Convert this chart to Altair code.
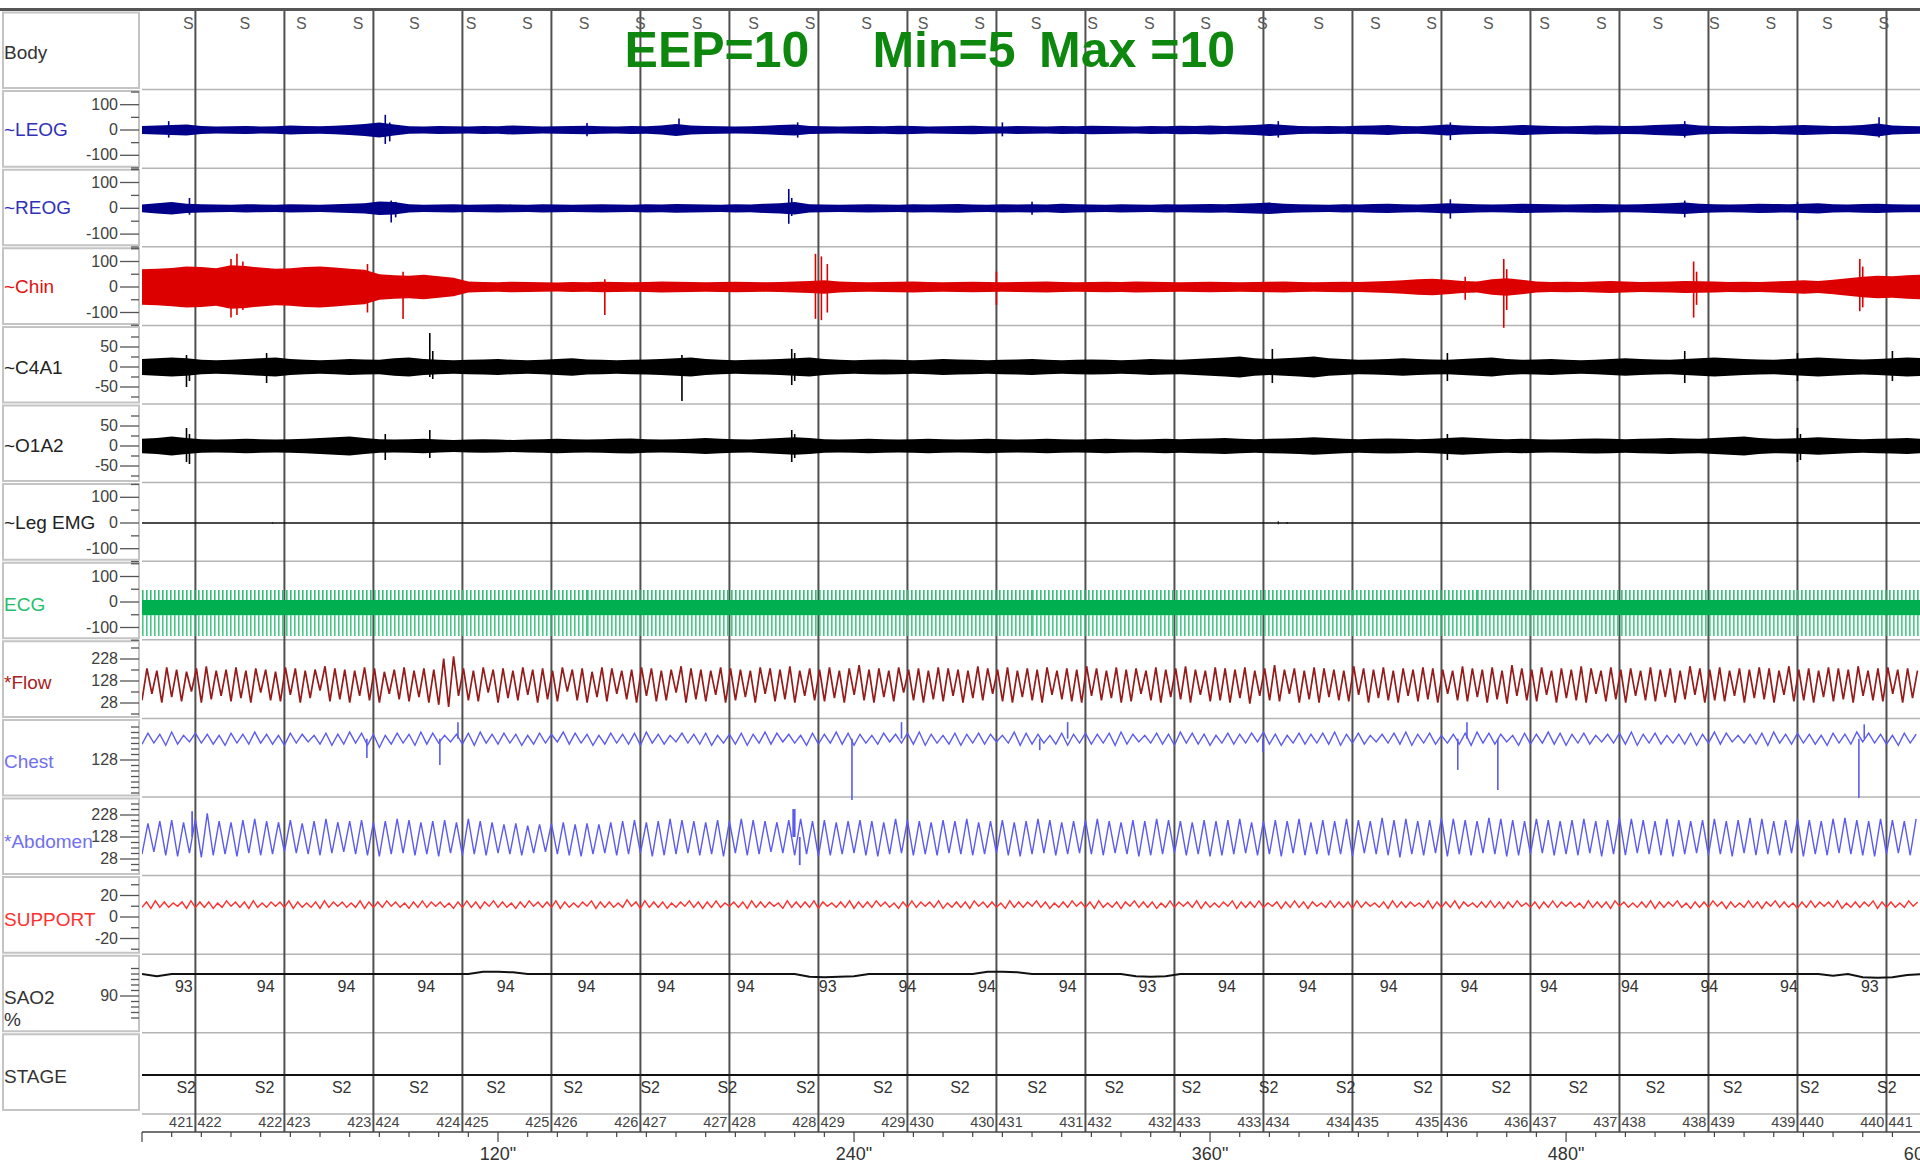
import altair as alt
import pandas as pd

# ====================== data ======================
EPOCHS = [421, 422, 423, 424, 425, 426, 427, 428, 429, 430, 431,
          432, 433, 434, 435, 436, 437, 438, 439, 440, 441]
EPOCH_STAGE = ["S2", "S2", "S2", "S2", "S2", "S2", "S2", "S2", "S2", "S2", "S2",
               "S2", "S2", "S2", "S2", "S2", "S2", "S2", "S2", "S2", "S2"]
EPOCH_421_START_S = -12.0
EPOCH_LEN_S = 30

BODY_POSITION_T = [15.6, 34.7, 53.7, 72.8, 91.8, 110.9, 129.9, 149.0, 168.0, 187.1,
                   206.1, 225.2, 244.2, 263.3, 282.3, 301.4, 320.4, 339.5, 358.5, 377.6,
                   396.6, 415.7, 434.7, 453.8, 472.8, 491.9, 510.9, 530.0, 549.0, 568.1, 587.1]
BODY_POSITION = "S"

SAO2_READ_T = [-13.2, 14.1, 41.7, 68.9, 95.8, 122.6, 149.8, 176.7, 203.5, 231.1, 258.0, 284.8,
               312.0, 338.9, 365.7, 392.9, 420.2, 447.4, 474.2, 501.5, 528.3, 555.1, 582.4]
SAO2_READ_V = [94, 93, 94, 94, 94, 94, 94, 94, 94, 93, 94, 94,
               94, 93, 94, 94, 94, 94, 94, 94, 94, 94, 93]
STAGE_LABEL_T = [-11.1, 14.9, 41.3, 67.3, 93.3, 119.3, 145.3, 171.3, 197.3, 223.7, 249.7, 275.7,
                 301.7, 327.7, 353.7, 379.7, 405.7, 431.7, 458.1, 484.1, 510.1, 536.1, 562.1, 588.1]
TIME_LABEL_S = [120, 240, 360, 480, 600]
TIME_TICK_S = [0, 10, 20, 30, 40, 50, 60, 70, 80, 90, 100, 110, 120, 130, 140, 150, 160, 170, 180, 190,
               200, 210, 220, 230, 240, 250, 260, 270, 280, 290, 300, 310, 320, 330, 340, 350, 360, 370,
               380, 390, 400, 410, 420, 430, 440, 450, 460, 470, 480, 490, 500, 510, 520, 530, 540, 550,
               560, 570, 580, 590]

TITLE_TEXTS = ["EEP=10", "Min=5", "Max =10"]

# envelopes (half amplitude, channel units) every 5 s
ENV_STEP_S = 5
LEOG_AMP = [16, 18, 20, 22, 16, 14, 15, 16, 14, 15, 18, 16, 15, 17, 20, 24, 30, 22, 15, 14,
            16, 15, 14, 16, 15, 18, 16, 14, 15, 16, 17, 15, 14, 16, 15, 18, 24, 18, 16, 15,
            14, 15, 17, 20, 22, 16, 15, 14, 15, 16, 15, 17, 16, 14, 15, 16, 17, 15, 14, 16,
            15, 14, 16, 15, 17, 16, 15, 14, 16, 15, 17, 16, 18, 16, 18, 20, 24, 20, 16, 15,
            16, 15, 17, 18, 20, 16, 15, 18, 22, 18, 16, 15, 17, 20, 18, 16, 15, 16, 18, 17,
            16, 17, 20, 22, 24, 18, 16, 15, 16, 17, 16, 18, 20, 18, 16, 17, 20, 26, 18, 16, 15]
REOG_AMP = [15, 20, 24, 18, 16, 15, 14, 16, 15, 14, 16, 15, 14, 16, 18, 20, 26, 24, 16, 14,
            15, 16, 14, 15, 16, 15, 14, 16, 15, 14, 15, 16, 15, 14, 16, 15, 17, 16, 15, 14,
            16, 15, 18, 20, 24, 16, 15, 14, 15, 16, 15, 14, 16, 15, 16, 17, 15, 14, 16, 15,
            16, 15, 18, 16, 15, 14, 16, 15, 14, 16, 15, 16, 17, 16, 18, 20, 22, 18, 16, 15,
            14, 16, 15, 17, 18, 16, 15, 17, 20, 18, 16, 15, 16, 18, 17, 16, 15, 16, 17, 16,
            15, 16, 18, 20, 22, 18, 16, 15, 16, 18, 17, 16, 18, 20, 16, 15, 17, 18, 16, 15, 15]
CHIN_AMP = [70, 72, 75, 80, 78, 74, 85, 82, 76, 72, 74, 78, 80, 76, 72, 68, 50, 46, 44, 48,
            42, 36, 22, 20, 19, 21, 20, 19, 18, 20, 19, 21, 20, 19, 20, 22, 21, 20, 19, 20,
            21, 20, 19, 20, 22, 24, 26, 22, 20, 19, 20, 21, 22, 20, 19, 20, 21, 20, 19, 20,
            21, 22, 20, 19, 20, 21, 20, 22, 21, 20, 19, 20, 21, 20, 19, 20, 21, 22, 20, 19,
            20, 21, 20, 22, 24, 26, 30, 32, 28, 24, 22, 30, 34, 28, 22, 20, 21, 20, 22, 24,
            22, 20, 21, 22, 24, 23, 22, 20, 21, 20, 22, 24, 26, 24, 28, 34, 40, 44, 42, 46, 48]
C4A1_AMP = [20, 22, 24, 22, 18, 17, 18, 20, 22, 24, 20, 18, 17, 18, 20, 19, 18, 22, 24, 20,
            18, 17, 18, 19, 20, 18, 17, 18, 20, 22, 19, 18, 17, 18, 19, 20, 22, 24, 20, 18,
            17, 18, 19, 20, 22, 24, 20, 18, 17, 18, 19, 18, 17, 18, 20, 19, 18, 17, 18, 19,
            20, 18, 17, 18, 19, 18, 17, 18, 20, 19, 18, 20, 22, 24, 26, 22, 20, 22, 24, 26,
            22, 20, 18, 19, 20, 22, 20, 19, 18, 20, 22, 24, 20, 18, 19, 20, 18, 17, 18, 20,
            22, 20, 19, 18, 20, 22, 24, 22, 20, 19, 18, 20, 22, 24, 22, 20, 19, 20, 22, 24, 22]
O1A2_AMP = [18, 20, 24, 20, 17, 16, 17, 18, 17, 16, 17, 18, 20, 22, 24, 20, 17, 16, 17, 18,
            16, 15, 16, 17, 16, 15, 16, 17, 18, 17, 16, 17, 18, 19, 17, 16, 17, 18, 20, 18,
            17, 16, 18, 20, 22, 20, 17, 16, 17, 18, 17, 16, 17, 18, 17, 16, 17, 18, 17, 16,
            17, 18, 17, 16, 17, 18, 17, 16, 17, 18, 17, 18, 19, 20, 18, 17, 18, 19, 20, 22,
            20, 18, 17, 18, 19, 18, 17, 18, 20, 22, 20, 18, 17, 18, 17, 16, 17, 18, 19, 18,
            17, 18, 19, 20, 19, 18, 20, 22, 24, 20, 18, 19, 20, 22, 20, 18, 17, 18, 19, 20, 18]

# isolated deflections: time (s), top, bottom (channel units)
LEOG_SPK_T = [9, 82, 83.5, 150, 181, 221, 290, 383, 441, 520, 585.5]
LEOG_SPK_HI = [35, 60, 30, 28, 45, 30, 30, 35, 30, 35, 50]
LEOG_SPK_LO = [-30, -55, -45, -25, -20, -30, -25, -30, -40, -30, -30]
REOG_SPK_T = [16, 84, 85.5, 218, 219, 300, 441, 520, 558]
REOG_SPK_HI = [40, 30, 25, 75, 40, 25, 35, 30, 25]
REOG_SPK_LO = [-25, -55, -35, -60, -30, -25, -40, -35, -45]
CHIN_SPK_T = [30, 32, 34, 76, 88, 156, 227, 229, 231, 288, 446, 459, 460, 523, 524, 579, 580]
CHIN_SPK_HI = [110, 130, 100, 90, 60, 30, 130, 120, 90, 60, 40, 110, 70, 100, 60, 110, 80]
CHIN_SPK_LO = [-120, -110, -90, -100, -125, -110, -125, -130, -100, -70, -50, -160, -90, -120, -70, -95, -80]
C4A1_SPK_T = [15, 16, 42, 97, 98, 182, 219, 220, 381, 440, 520, 558, 590]
C4A1_SPK_HI = [30, 20, 35, 85, 40, 30, 45, 35, 45, 35, 40, 35, 40]
C4A1_SPK_LO = [-50, -35, -40, -25, -30, -85, -45, -35, -40, -35, -40, -35, -35]
O1A2_SPK_T = [15, 16, 82, 97, 219, 220, 440, 558, 559]
O1A2_SPK_HI = [45, 30, 30, 40, 40, 30, 30, 45, 30]
O1A2_SPK_LO = [-40, -45, -35, -30, -40, -30, -35, -40, -35]
LEG_T = [0, 600]
LEG_V = [0, 0]
LEG_SPK_T = [44, 383, 386]
LEG_SPK_HI = [3, 7, 4]
LEG_SPK_LO = [-2, -5, -3]

ECG_T = [0, 150, 300, 450, 600]
ECG_CORE_HI = [8, 8, 8, 8, 8]
ECG_CORE_LO = [-52, -52, -52, -52, -52]
ECG_PEAK_HI = [47, 47, 47, 47, 47]
ECG_PEAK_LO = [-133, -133, -133, -133, -133]

FLOW_HALF_PERIOD_S = 1.667
FLOW_TROUGH = [40, 70, 30, 55, 35, 80, 30, 45, 60, 35, 50, 30, 75, 40, 35, 65, 30, 50, 85, 35,
               45, 30, 60, 40, 30, 70, 45, 35, 55, 30, 20, 10, 60, 40, 35, 75, 30, 50, 40, 65,
               30, 45, 35, 80, 40, 30, 55, 35, 70, 45, 30, 60, 35, 40, 75, 30, 45, 35, 65, 30,
               40, 55, 30, 70, 35, 45, 30, 60, 40, 35, 50, 30, 65, 40, 30, 55, 35, 75, 40, 30,
               45, 35, 60, 30, 50, 40, 70, 35, 30, 55, 40, 30, 65, 45, 35, 30, 60, 40, 50, 30,
               35, 70, 40, 30, 55, 45, 30, 65, 35, 40, 30, 50, 25, 60, 40, 35, 70, 30, 45, 30,
               55, 40, 35, 65, 30, 50, 40, 30, 60, 35, 45, 30, 70, 40, 35, 55, 30, 45, 25, 60,
               40, 35, 65, 30, 50, 40, 30, 70, 35, 45, 30, 60, 40, 35, 55, 30, 45, 65, 30, 40,
               35, 60, 30, 50, 45, 30, 65, 35, 40, 30, 55, 35, 45, 30, 60, 40, 35, 70, 30, 50]
FLOW_PEAK = [185, 175, 190, 180, 170, 185, 195, 175, 180, 190, 175, 185, 180, 170, 190, 185, 175, 180, 195, 185,
             180, 175, 190, 185, 170, 180, 190, 175, 185, 180, 230, 240, 185, 175, 190, 180, 185, 175, 190, 180,
             185, 175, 190, 180, 185, 170, 190, 185, 175, 180, 190, 185, 175, 180, 195, 185, 180, 175, 190, 185,
             180, 175, 190, 185, 180, 195, 175, 185, 180, 190, 175, 185, 200, 180, 185, 175, 190, 180, 185, 175,
             190, 185, 180, 175, 195, 185, 180, 190, 175, 185, 180, 190, 175, 185, 180, 195, 185, 175, 190, 180,
             185, 175, 190, 180, 185, 195, 180, 175, 190, 185, 180, 190, 175, 185, 200, 180, 185, 175, 190, 185,
             180, 175, 195, 185, 180, 190, 175, 185, 180, 190, 185, 180, 175, 195, 185, 180, 190, 175, 200, 185,
             180, 190, 175, 185, 180, 195, 185, 175, 190, 180, 185, 175, 190, 180, 185, 175, 195, 185, 180, 190,
             175, 185, 180, 190, 185, 175, 195, 180, 185, 175, 190, 185, 180, 195, 175, 185, 190, 180, 185, 175]

RESP_HALF_PERIOD_S = 2.0
CHEST_TROUGH = [200, 205, 195, 200, 210, 205, 200, 195, 205, 200, 205, 200, 195, 205, 210, 200, 195, 200, 205, 195,
                185, 200, 205, 195, 200, 205, 210, 200, 195, 205, 200, 205, 195, 200, 205, 210, 200, 205, 195, 200,
                205, 200, 195, 205, 200, 210, 205, 200, 195, 205, 200, 195, 205, 200, 210, 205, 195, 200, 205, 200,
                195, 205, 200, 210, 205, 200, 195, 205, 200, 195, 205, 200, 210, 205, 195, 200, 205, 200, 195, 205,
                200, 205, 195, 200, 210, 205, 200, 195, 205, 200, 195, 205, 200, 205, 210, 200, 195, 205, 200, 205,
                200, 195, 205, 200, 210, 205, 200, 195, 205, 200, 205, 200, 195, 205, 200, 210, 195, 200, 205, 200,
                195, 205, 200, 210, 205, 200, 195, 205, 200, 205, 200, 195, 205, 200, 210, 205, 200, 195, 205, 200,
                205, 200, 195, 205, 200, 210, 205, 200, 195, 205]
CHEST_PEAK = [250, 245, 255, 240, 250, 245, 240, 250, 245, 255, 245, 240, 250, 245, 240, 250, 245, 255, 250, 245,
              240, 250, 245, 255, 250, 240, 245, 250, 255, 245, 250, 245, 240, 250, 245, 255, 250, 245, 240, 250,
              245, 250, 255, 245, 240, 250, 245, 250, 240, 245, 250, 245, 255, 250, 245, 240, 250, 245, 255, 250,
              245, 240, 250, 245, 250, 255, 245, 240, 250, 245, 250, 245, 240, 255, 250, 245, 240, 250, 245, 250,
              245, 250, 255, 245, 240, 250, 245, 255, 250, 245, 240, 250, 245, 250, 255, 245, 240, 250, 245, 250,
              255, 245, 250, 240, 245, 250, 255, 245, 250, 240, 245, 250, 255, 250, 245, 240, 250, 245, 255, 250,
              245, 250, 240, 245, 250, 255, 245, 250, 240, 245, 250, 245, 255, 250, 240, 245, 250, 255, 245, 250,
              245, 240, 250, 245, 255, 250, 245, 240, 250, 245]
CHEST_SPK_T = [75.8, 100.4, 106.5, 239.3, 256, 302.6, 312, 377.8, 443.5, 446.6, 457, 578.7, 580.5]
CHEST_SPK_V = [137, 105, 300, -54, 300, 173, 300, 164, 83, 300, -8, -45, 290]
CHEST_SPK_FROM = 225

ABD_TROUGH = [50, 60, 45, 40, 55, 35, 45, 50, 40, 55, 45, 50, 60, 55, 50, 45, 55, 60, 50, 45,
              40, 50, 55, 45, 50, 40, 55, 45, 50, 45, 55, 50, 45, 55, 60, 50, 45, 40, 50, 55,
              45, 50, 55, 40, 45, 50, 55, 45, 50, 40, 55, 45, 50, 60, 55, 45, 50, 40, 45, 50,
              55, 45, 40, 50, 55, 45, 50, 45, 55, 50, 45, 50, 55, 45, 40, 50, 55, 45, 50, 55,
              50, 45, 55, 50, 40, 45, 50, 55, 45, 50, 40, 45, 50, 55, 45, 50, 40, 55, 45, 50,
              45, 50, 40, 55, 50, 45, 35, 50, 45, 55, 40, 50, 45, 55, 50, 40, 45, 50, 55, 45,
              50, 45, 55, 40, 50, 45, 55, 50, 45, 40, 50, 55, 45, 50, 40, 55, 45, 50, 45, 55,
              40, 50, 45, 55, 50, 45, 40, 50, 55, 45]
ABD_PEAK = [190, 200, 205, 195, 210, 235, 200, 195, 205, 210, 200, 195, 205, 190, 200, 210, 195, 200, 205, 195,
            200, 210, 205, 195, 200, 205, 195, 210, 200, 195, 185, 190, 180, 185, 190, 195, 185, 190, 185, 195,
            200, 205, 195, 200, 210, 205, 200, 195, 205, 200, 210, 205, 200, 195, 205, 210, 200, 205, 195, 200,
            205, 200, 195, 210, 205, 200, 195, 205, 200, 210, 195, 200, 205, 195, 200, 210, 205, 195, 200, 205,
            210, 200, 195, 205, 200, 210, 205, 200, 195, 205, 200, 205, 210, 195, 200, 205, 200, 210, 195, 205,
            200, 210, 205, 200, 215, 205, 210, 200, 205, 215, 210, 205, 200, 215, 210, 205, 200, 210, 205, 200,
            205, 210, 200, 205, 215, 210, 205, 200, 210, 205, 200, 205, 210, 200, 205, 215, 210, 200, 205, 210,
            205, 200, 210, 215, 205, 200, 210, 205, 200, 210]
ABD_SPK_T = [16.9, 219.5, 220.0, 221.7]
ABD_SPK_V = [245, 255, 255, 0]
ABD_SPK_FROM = 128

SUP_HALF_PERIOD_S = 1.5
SUP_PEAK = [14, 15, 14, 13, 14, 15, 14, 14, 13, 15, 14, 14, 15, 13, 14, 14, 15, 14, 13, 14,
            15, 14, 14, 13, 15, 14, 14, 15, 14, 13, 14, 15, 14, 14, 13, 14, 15, 14, 14, 15,
            14, 13, 14, 15, 14, 14, 15, 14, 13, 14, 15, 14, 14, 13, 16, 14, 15, 14, 14, 13,
            14, 15, 14, 14, 15, 13, 14, 14, 15, 14, 14, 13, 15, 14, 14, 15, 14, 13, 14, 15,
            14, 14, 15, 14, 13, 14, 15, 14, 14, 15, 13, 14, 14, 15, 14, 14, 13, 15, 14, 14,
            15, 14, 13, 14, 15, 14, 14, 15, 13, 14, 14, 15, 14, 14, 13, 15, 14, 14, 15, 14,
            13, 14, 15, 14, 14, 15, 13, 14, 14, 15, 14, 14, 13, 15, 14, 14, 15, 14, 13, 14,
            15, 14, 14, 13, 15, 14, 14, 15, 14, 13, 14, 15, 14, 14, 15, 13, 14, 14, 15, 14,
            14, 13, 15, 14, 14, 15, 14, 13, 14, 15, 14, 14, 15, 13, 14, 14, 15, 14, 14, 13,
            15, 14, 14, 15, 14, 13, 14, 15, 14, 14, 15, 13, 14, 14, 15, 14, 14, 13, 15, 14]
SUP_TROUGH = [9, 8, 9, 9, 10, 8, 9, 9, 8, 9, 10, 9, 8, 9, 9, 10, 9, 8, 9, 9,
              8, 9, 10, 9, 9, 8, 9, 9, 10, 9, 8, 9, 9, 10, 9, 8, 9, 9, 8, 10,
              9, 9, 8, 9, 10, 9, 9, 8, 9, 9, 10, 8, 9, 9, 9, 10, 8, 9, 9, 8,
              9, 10, 9, 8, 9, 9, 10, 9, 8, 9, 9, 10, 8, 9, 9, 9, 8, 10, 9, 9,
              8, 9, 9, 10, 9, 8, 9, 9, 10, 9, 8, 9, 9, 8, 10, 9, 9, 8, 9, 9,
              10, 9, 8, 9, 9, 10, 9, 8, 9, 9, 8, 10, 9, 9, 8, 9, 9, 10, 9, 8,
              9, 9, 10, 8, 9, 9, 9, 10, 8, 9, 9, 8, 10, 9, 9, 9, 8, 9, 10, 9,
              8, 9, 9, 10, 9, 8, 9, 9, 8, 10, 9, 9, 9, 8, 9, 10, 9, 8, 9, 9,
              10, 9, 8, 9, 9, 8, 10, 9, 9, 9, 8, 9, 10, 9, 8, 9, 9, 10, 8, 9,
              9, 9, 8, 10, 9, 9, 8, 9, 9, 10, 9, 8, 9, 9, 10, 8, 9, 9, 9, 10]

SAO2_PCT = [94, 93.6, 94, 94, 94, 94, 94, 94, 94, 94, 94, 94, 94, 94, 94, 94, 94, 94, 94, 94,
            94, 94, 94, 94.4, 94.4, 94.3, 94, 94, 94, 94, 94, 94, 94, 94, 94, 94, 94, 94, 94, 94,
            94, 94, 94, 94, 94, 93.5, 93.4, 93.5, 93.6, 94, 94, 94, 94, 94, 94, 94, 94, 94.4, 94.4, 94.3,
            94, 94, 94, 94, 94, 94, 94, 93.6, 93.5, 93.6, 94, 94, 94, 94, 94, 94, 94, 94, 94, 94,
            94, 94, 94, 94, 94, 94, 94, 94, 94, 94, 94, 94, 94, 94, 94, 94, 94, 94, 94, 94,
            94, 94, 94, 94, 94, 94, 94, 94, 94, 94, 94, 94, 94, 94, 93.7, 94, 93.4, 93.3, 93.4, 93.8, 94]

# ====================== layout / styles ======================
FONT = "Liberation Sans"
PLOT_W, PLOT_H = 1778, 1121
T_MAX = 599.3
ROW_PITCH = 78.6
PANEL_X0, PANEL_X1 = -139, -3

# channel -> (pixel row of base value, pixels per unit, base value)
CH = {
    "LEOG": (119.0, 0.253, 0), "REOG": (197.3, 0.258, 0), "Chin": (276.0, 0.255, 0),
    "C4A1": (356.0, 0.40, 0), "O1A2": (435.0, 0.40, 0), "Leg": (512.0, 0.257, 0),
    "ECG": (591.0, 0.255, 0), "Flow": (670.0, 0.22, 128), "Chest": (749.0, 0.22, 128),
    "Abdomen": (826.0, 0.22, 128), "SUPPORT": (906.0, 1.075, 0), "SAO2": (985.0, 5.5, 90),
    "STAGE": (1064.0, 1.0, 0),
}


def ypix(ch, v):
    z, k, b = CH[ch]
    return z - (v - b) * k


XS = alt.Scale(domain=[0, T_MAX], nice=False, zero=False)
YS = alt.Scale(domain=[0, PLOT_H], reverse=True, nice=False, zero=False)


def X(f="t"):
    return alt.X(f + ":Q", scale=XS, axis=None)


def Y(f="y"):
    return alt.Y(f + ":Q", scale=YS, axis=None)


layers = []

# label panel boxes
boxes = pd.DataFrame({"y": [ROW_PITCH * i + 1.5 for i in range(14)],
                      "y2": [ROW_PITCH * (i + 1) - 1.5 for i in range(14)]})
layers.append(alt.Chart(boxes).mark_rect(fill="white", stroke="#c4c4c4", strokeWidth=2).encode(
    x=alt.value(PANEL_X0), x2=alt.value(PANEL_X1), y=Y("y"), y2="y2:Q"))

# top border
layers.append(alt.Chart(pd.DataFrame({"y": [-1.5]})).mark_rule(color="#555555", strokeWidth=3).encode(
    x=alt.value(-142), x2=alt.value(PLOT_W), y=Y("y")))

# row separators inside plot + epoch strip line
sep = pd.DataFrame({"y": [ROW_PITCH * i for i in range(1, 14)] + [1103.0]})
sep["t0"] = 0.0
sep["t1"] = T_MAX
layers.append(alt.Chart(sep).mark_rule(color="#b4b4b4", strokeWidth=1.5).encode(
    x=X("t0"), x2="t1:Q", y=Y("y")))

# epoch boundaries
ep = pd.DataFrame({"t": [EPOCH_421_START_S + EPOCH_LEN_S * (n - EPOCHS[0]) for n in EPOCHS[1:]]})
ep["y0"] = 0.0
ep["y1"] = float(PLOT_H)
layers.append(alt.Chart(ep).mark_rule(color="#505050", strokeWidth=2).encode(
    x=X("t"), y=Y("y0"), y2="y1:Q"))

# time axis line and ticks
layers.append(alt.Chart(pd.DataFrame({"t0": [0.0], "t1": [T_MAX], "y": [float(PLOT_H)]})).mark_rule(
    color="#444444", strokeWidth=1.5).encode(x=X("t0"), x2="t1:Q", y=Y("y")))
tk = pd.DataFrame({"t": TIME_TICK_S})
tk["y0"] = float(PLOT_H)
tk["y1"] = [PLOT_H + (10 if s % 120 == 0 else 5) for s in TIME_TICK_S]
layers.append(alt.Chart(tk).mark_rule(color="#444444", strokeWidth=1.2).encode(
    x=X("t"), y=Y("y0"), y2="y1:Q"))


def band(ch, amps, color):
    df = pd.DataFrame({"t": [i * ENV_STEP_S for i in range(len(amps))],
                       "y": [ypix(ch, a) for a in amps],
                       "y2": [ypix(ch, -a) for a in amps]})
    return alt.Chart(df).mark_area(color=color, opacity=1).encode(x=X("t"), y=Y("y"), y2="y2:Q")


def spikes(ch, ts, hi, lo, color, w=1.6):
    df = pd.DataFrame({"t": ts, "y": [ypix(ch, v) for v in hi], "y2": [ypix(ch, v) for v in lo]})
    return alt.Chart(df).mark_rule(color=color, strokeWidth=w).encode(x=X("t"), y=Y("y"), y2="y2:Q")


def line(ch, ts, vs, color, w=1.5):
    df = pd.DataFrame({"t": ts, "y": [ypix(ch, v) for v in vs]})
    return alt.Chart(df).mark_line(color=color, strokeWidth=w, clip=True).encode(x=X("t"), y=Y("y"))


def interleave(a, b):
    out = []
    for p, q in zip(a, b):
        out += [p, q]
    return out


EOG_C, CHIN_C, EEG_C = "#000088", "#dd0000", "#000000"
layers += [band("LEOG", LEOG_AMP, EOG_C), spikes("LEOG", LEOG_SPK_T, LEOG_SPK_HI, LEOG_SPK_LO, EOG_C),
           band("REOG", REOG_AMP, EOG_C), spikes("REOG", REOG_SPK_T, REOG_SPK_HI, REOG_SPK_LO, EOG_C),
           band("Chin", CHIN_AMP, CHIN_C), spikes("Chin", CHIN_SPK_T, CHIN_SPK_HI, CHIN_SPK_LO, CHIN_C),
           band("C4A1", C4A1_AMP, EEG_C), spikes("C4A1", C4A1_SPK_T, C4A1_SPK_HI, C4A1_SPK_LO, EEG_C),
           band("O1A2", O1A2_AMP, EEG_C), spikes("O1A2", O1A2_SPK_T, O1A2_SPK_HI, O1A2_SPK_LO, EEG_C),
           line("Leg", LEG_T, LEG_V, "#111111", 1.5),
           spikes("Leg", LEG_SPK_T, LEG_SPK_HI, LEG_SPK_LO, "#111111", 1.2)]

# ECG: comb of beats above and below a solid core
ecg_up = pd.DataFrame({"t0": ECG_T[:-1], "t1": ECG_T[1:],
                       "y": [ypix("ECG", (h + c) / 2) for h, c in zip(ECG_PEAK_HI[:-1], ECG_CORE_HI[:-1])],
                       "w": [(h - c) * CH["ECG"][1] for h, c in zip(ECG_PEAK_HI[:-1], ECG_CORE_HI[:-1])]})
ecg_dn = pd.DataFrame({"t0": ECG_T[:-1], "t1": ECG_T[1:],
                       "y": [ypix("ECG", (l + c) / 2) for l, c in zip(ECG_PEAK_LO[:-1], ECG_CORE_LO[:-1])],
                       "w": [(c - l) * CH["ECG"][1] for l, c in zip(ECG_PEAK_LO[:-1], ECG_CORE_LO[:-1])]})
layers.append(alt.Chart(ecg_up).mark_rule(color="#2fbf74", strokeDash=[1.6, 2.4], strokeCap="butt").encode(
    x=X("t0"), x2="t1:Q", y=Y("y"), strokeWidth=alt.StrokeWidth("w:Q", scale=None)))
layers.append(alt.Chart(ecg_dn).mark_rule(color="#45c985", strokeDash=[1.6, 2.4], strokeCap="butt").encode(
    x=X("t0"), x2="t1:Q", y=Y("y"), strokeWidth=alt.StrokeWidth("w:Q", scale=None)))
ecg_core = pd.DataFrame({"t": ECG_T, "y": [ypix("ECG", v) for v in ECG_CORE_HI],
                         "y2": [ypix("ECG", v) for v in ECG_CORE_LO]})
layers.append(alt.Chart(ecg_core).mark_area(color="#00b050").encode(x=X("t"), y=Y("y"), y2="y2:Q"))

# respiration
flow_v = interleave(FLOW_TROUGH, FLOW_PEAK)
layers.append(line("Flow", [j * FLOW_HALF_PERIOD_S for j in range(len(flow_v))], flow_v, "#961c1c", 1.7))
chest_v = interleave(CHEST_TROUGH, CHEST_PEAK)
layers.append(line("Chest", [j * RESP_HALF_PERIOD_S for j in range(len(chest_v))], chest_v, "#5b5bf0", 1.4))
layers.append(spikes("Chest", CHEST_SPK_T, [CHEST_SPK_FROM] * len(CHEST_SPK_T), CHEST_SPK_V, "#5b5bf0", 1.6))
abd_v = interleave(ABD_TROUGH, ABD_PEAK)
layers.append(line("Abdomen", [j * RESP_HALF_PERIOD_S for j in range(len(abd_v))], abd_v, "#5b5bf0", 1.4))
layers.append(spikes("Abdomen", ABD_SPK_T, [ABD_SPK_FROM] * len(ABD_SPK_T), ABD_SPK_V, "#5b5bf0", 1.8))
sup_v = interleave(SUP_TROUGH, SUP_PEAK)
layers.append(line("SUPPORT", [j * SUP_HALF_PERIOD_S for j in range(len(sup_v))], sup_v, "#ff3030", 1.4))

# SaO2 and stage
layers.append(line("SAO2", [i * ENV_STEP_S for i in range(len(SAO2_PCT))], SAO2_PCT, "#111111", 2))
stage_df = pd.DataFrame({"t0": [EPOCH_421_START_S + EPOCH_LEN_S * i for i in range(len(EPOCHS))],
                         "t1": [EPOCH_421_START_S + EPOCH_LEN_S * (i + 1) for i in range(len(EPOCHS))],
                         "y": [ypix("STAGE", 0) for _ in EPOCH_STAGE]})
layers.append(alt.Chart(stage_df).mark_rule(color="#111111", strokeWidth=2, clip=True).encode(
    x=X("t0"), x2="t1:Q", y=Y("y")))


# ---------------- texts ----------------
def texts(df, size, color, align="center", baseline="middle", clip=False, weight="normal", font=FONT):
    return alt.Chart(df).mark_text(fontSize=size, color=color, align=align, baseline=baseline,
                                   clip=clip, fontWeight=weight, font=font).encode(
        x=X("t"), y=Y("y"), text="txt:N")


layers.append(texts(pd.DataFrame({"t": BODY_POSITION_T, "y": 13.0,
                                  "txt": [BODY_POSITION] * len(BODY_POSITION_T)}), 16, "#5a5a5a"))
layers.append(texts(pd.DataFrame({"t": SAO2_READ_T, "y": 976.0, "txt": [str(v) for v in SAO2_READ_V]}),
                    16, "#333333", clip=True))


def stage_at(t):
    i = int((t - EPOCH_421_START_S) // EPOCH_LEN_S)
    return EPOCH_STAGE[max(0, min(i, len(EPOCH_STAGE) - 1))]


layers.append(texts(pd.DataFrame({"t": STAGE_LABEL_T, "y": 1077.0, "txt": [stage_at(t) for t in STAGE_LABEL_T]}),
                    16, "#333333", clip=True))
ep_left = pd.DataFrame({"t": [EPOCH_421_START_S + EPOCH_LEN_S * i + 0.7 for i in range(len(EPOCHS))],
                        "y": 1112.0, "txt": [str(n) for n in EPOCHS]})
ep_right = pd.DataFrame({"t": [EPOCH_421_START_S + EPOCH_LEN_S * (i + 1) - 0.7 for i in range(len(EPOCHS))],
                         "y": 1112.0, "txt": [str(n) for n in EPOCHS]})
layers.append(texts(ep_left, 14.5, "#444444", align="left", clip=True))
layers.append(texts(ep_right, 14.5, "#444444", align="right", clip=True))
layers.append(texts(pd.DataFrame({"t": TIME_LABEL_S, "y": 1144.0, "txt": [f'{s}"' for s in TIME_LABEL_S]}),
                    18, "#333333"))

# big annotation
layers.append(texts(pd.DataFrame({"t": [193.8, 270.3, 335.4], "y": 56.0, "txt": TITLE_TEXTS}),
                    50, "#0e870e", baseline="alphabetic", weight="bold",
                    font="Liberation Sans Narrow, Liberation Sans"))

# row labels
ROW_LABELS = ["Body", "~LEOG", "~REOG", "~Chin", "~C4A1", "~O1A2", "~Leg EMG", "ECG",
              "*Flow", "Chest", "*Abdomen", "SUPPORT", "SAO2", "%", "STAGE"]
ROW_LABEL_Y = [42, 119, 197, 276, 357, 435, 512, 594, 672, 751, 831, 909, 987, 1009, 1066]
ROW_LABEL_C = ["#333333", "#3030b8", "#3030b8", "#e01010", "#222222", "#222222", "#222222", "#22c06a",
               "#a82222", "#7070f0", "#7070f0", "#ff3030", "#333333", "#333333", "#333333"]
rl = pd.DataFrame({"y": ROW_LABEL_Y, "txt": ROW_LABELS, "c": ROW_LABEL_C})
layers.append(alt.Chart(rl).mark_text(fontSize=19, align="left", baseline="middle", font=FONT).encode(
    x=alt.value(-138), y=Y("y"), text="txt:N", color=alt.Color("c:N", scale=None)))

# amplitude ticks in the label panel
TICKS = {
    "LEOG": ([150, 100, 50, 0, -50, -100, -150], [100, 0, -100]),
    "REOG": ([150, 100, 50, 0, -50, -100, -150], [100, 0, -100]),
    "Chin": ([150, 100, 50, 0, -50, -100, -150], [100, 0, -100]),
    "C4A1": ([75, 50, 25, 0, -25, -50, -75], [50, 0, -50]),
    "O1A2": ([75, 50, 25, 0, -25, -50, -75], [50, 0, -50]),
    "Leg": ([150, 100, 50, 0, -50, -100, -150], [100, 0, -100]),
    "ECG": ([150, 100, 50, 0, -50, -100, -150], [100, 0, -100]),
    "Flow": ([278, 228, 178, 128, 78, 28, -22], [228, 128, 28]),
    "Chest": ([278, 253, 228, 203, 178, 153, 128, 103, 78, 53, 28, 3, -22], [128]),
    "Abdomen": ([278, 253, 228, 203, 178, 153, 128, 103, 78, 53, 28, 3, -22], [228, 128, 28]),
    "SUPPORT": ([30, 20, 10, 0, -10, -20, -30], [20, 0, -20]),
    "SAO2": ([95, 94, 93, 92, 91, 90, 89, 88, 87, 86], [90]),
}
minor_rows, major_rows = [], []
for ch, (allv, major) in TICKS.items():
    for v in allv:
        (major_rows if v in major else minor_rows).append({"y": ypix(ch, v), "txt": str(v)})
minor_df = pd.DataFrame(minor_rows)
major_df = pd.DataFrame(major_rows)
layers.append(alt.Chart(minor_df).mark_rule(color="#555555", strokeWidth=1.3).encode(
    x=alt.value(-11), x2=alt.value(-3), y=Y("y")))
layers.append(alt.Chart(major_df).mark_rule(color="#555555", strokeWidth=1.3).encode(
    x=alt.value(-22), x2=alt.value(-3), y=Y("y")))
layers.append(alt.Chart(major_df).mark_text(fontSize=16, color="#404040", align="right",
                                            baseline="middle", font=FONT).encode(
    x=alt.value(-24), y=Y("y"), text="txt:N"))

chart = alt.layer(*layers).properties(
    width=PLOT_W, height=PLOT_H,
    autosize=alt.AutoSizeParams(type="none"),
    padding={"left": 142, "top": 11, "right": 0, "bottom": 32},
    background="white",
).configure_view(stroke=None)

chart.save("out.html", embed_options={"renderer": "svg", "actions": False})
